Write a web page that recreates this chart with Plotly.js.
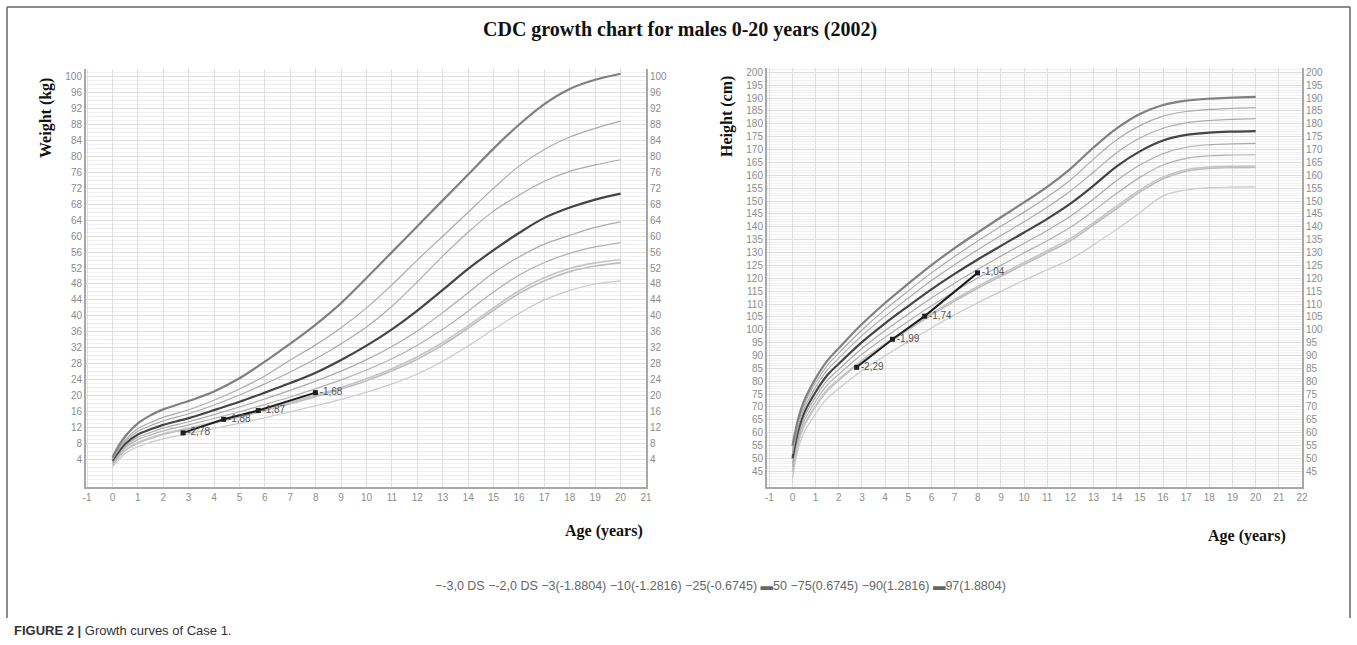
<!DOCTYPE html>
<html><head><meta charset="utf-8">
<script src="https://cdn.plot.ly/plotly-3.0.1.min.js"></script>
<style>html,body{margin:0;padding:0;background:#fff;} #chart{width:1357px;height:645px;}</style>
</head><body><div id="chart"></div>
<script>
// ---- data ----
const ages = [0,0.25,0.5,1,1.5,2,3,4,5,6,7,8,9,10,11,12,13,14,15,16,17,18,19,20];
const seriesNames = ['-3,0 DS','-2,0 DS','3(-1.8804)','10(-1.2816)','25(-0.6745)','50','75(0.6745)','90(1.2816)','97(1.8804)'];

const weightM3  = [2.0,3.8,5.4,7.1,8.2,9.1,10.4,11.7,13.0,14.4,15.9,17.4,19.0,20.8,22.9,25.4,28.6,32.4,36.6,40.6,44.0,46.4,48.0,48.8];
const weightM2  = [2.5,4.5,6.2,8.0,9.2,10.2,11.6,13.1,14.6,16.2,17.9,19.7,21.6,23.7,26.2,29.1,32.7,36.9,41.4,45.6,48.8,51.1,52.5,53.3];
const weightP3  = [2.6,4.6,6.3,8.2,9.4,10.4,11.8,13.3,14.9,16.5,18.3,20.1,22.0,24.2,26.7,29.7,33.3,37.5,42.0,46.3,49.6,51.9,53.3,54.1];
const weightP10 = [3.0,5.1,6.9,8.9,10.1,11.1,12.6,14.2,15.9,17.7,19.6,21.7,23.9,26.4,29.2,32.6,36.6,41.2,46.0,50.2,53.4,55.7,57.3,58.4];
const weightP25 = [3.3,5.5,7.3,9.5,10.7,11.8,13.4,15.2,17.1,19.1,21.3,23.6,26.1,29.0,32.3,36.2,40.8,45.8,50.8,54.8,58.0,60.2,62.2,63.6];
const weightP50 = [3.6,5.9,7.8,10.2,11.5,12.6,14.3,16.3,18.4,20.7,23.1,25.7,28.9,32.5,36.6,41.3,46.5,51.8,56.5,60.8,64.6,67.2,69.2,70.7];
const weightP75 = [3.9,6.4,8.4,11.0,12.4,13.6,15.4,17.6,20.1,22.9,25.9,29.2,33.0,37.2,42.4,48.5,55.0,61.0,66.3,70.3,73.8,76.3,77.9,79.2];
const weightP90 = [4.1,6.7,8.8,11.7,13.2,14.5,16.4,18.8,21.6,24.9,28.9,32.7,37.0,42.0,47.8,54.0,60.0,66.0,72.0,77.6,81.8,84.9,87.1,88.9];
const weightP97 = [4.4,7.4,9.7,13.0,15.0,16.5,18.6,21.0,24.3,28.5,33.0,37.8,43.2,49.5,56.0,62.5,69.0,75.5,82.0,88.0,93.2,97.0,99.3,100.8];

const heightM3  = [42.2,53.8,60.1,67.4,73.3,77.2,84.1,89.9,95.4,100.7,105.8,110.5,114.9,119.2,123.3,127.4,133.0,139.0,145.5,152.0,154.3,155.2,155.4,155.5];
const heightM2  = [44.8,56.2,62.6,70.2,76.3,80.4,87.8,94.1,100.0,105.7,111.1,116.1,120.8,125.4,129.9,134.6,140.8,147.1,153.5,158.7,161.6,162.7,163.0,163.1];
const heightP3  = [45.1,56.5,62.9,70.5,76.7,80.8,88.2,94.6,100.6,106.3,111.7,116.8,121.5,126.1,130.7,135.5,141.6,148.0,154.3,159.4,162.2,163.2,163.5,163.6];
const heightP10 = [46.7,57.9,64.4,72.2,78.5,82.7,90.5,97.1,103.3,109.3,114.9,120.1,125.0,129.9,134.6,139.8,146.2,153.0,159.2,164.0,166.6,167.6,167.9,168.0];
const heightP25 = [48.2,59.4,65.9,73.9,80.3,84.6,92.7,99.7,106.1,112.3,118.1,123.5,128.6,133.6,138.6,144.1,150.8,158.0,164.0,168.4,170.9,171.9,172.2,172.4];
const heightP50 = [50.0,61.0,67.6,75.8,82.3,86.8,95.2,102.5,109.2,115.7,121.7,127.3,132.6,137.8,143.1,149.0,156.0,163.5,169.3,173.5,175.7,176.6,177.0,177.2];
const heightP75 = [51.8,62.6,69.3,77.7,84.3,89.0,97.7,105.3,112.3,119.1,125.3,131.1,136.6,142.0,147.6,153.9,161.3,168.8,174.5,178.3,180.4,181.3,181.7,182.0];
const heightP90 = [53.3,64.1,70.8,79.4,86.1,90.9,99.9,107.9,115.1,122.1,128.5,134.5,140.2,145.7,151.6,158.2,166.3,173.8,179.3,183.0,184.8,185.6,186.0,186.3];
const heightP97 = [54.9,65.5,72.3,81.1,87.9,92.8,102.2,110.4,117.9,125.1,131.7,137.8,143.7,149.5,155.5,162.5,170.8,178.2,183.8,187.3,189.0,189.8,190.2,190.5];

const patientWeightAges = [2.78,4.38,5.74,7.99];
const patientWeights    = [10.6,14.0,16.2,20.7];
const patientWeightZ    = ['-2,78','-1,88','-1,87','-1,68'];
const patientHeightAges = [2.77,4.32,5.71,7.99];
const patientHeights    = [85.4,96.3,105.3,122.1];
const patientHeightZ    = ['-2,29','-1,99','-1,74','-1,04'];

const weightTicks = [4,8,12,16,20,24,28,32,36,40,44,48,52,56,60,64,68,72,76,80,84,88,92,96,100];
const heightTicks = [45,50,55,60,65,70,75,80,85,90,95,100,105,110,115,120,125,130,135,140,145,150,155,160,165,170,175,180,185,190,195,200];
const weightAgeTicks = [-1,0,1,2,3,4,5,6,7,8,9,10,11,12,13,14,15,16,17,18,19,20,21];
const heightAgeTicks = [-1,0,1,2,3,4,5,6,7,8,9,10,11,12,13,14,15,16,17,18,19,20,21,22];

const titleText = '<b>CDC growth chart for males 0-20 years (2002)</b>';
const captionText = '<b>FIGURE 2 |</b> Growth curves of Case 1.';

// ---- styles ----
const curveStyles = [
  {color:'#c9c9c9', width:1.2},
  {color:'#bdbdbd', width:1.6},
  {color:'#c4c4c4', width:1.6},
  {color:'#b0b0b0', width:1.2},
  {color:'#ababab', width:1.2},
  {color:'#444444', width:2.2},
  {color:'#ababab', width:1.2},
  {color:'#ababab', width:1.2},
  {color:'#808080', width:2.2}
];
const weightSeries = [weightM3,weightM2,weightP3,weightP10,weightP25,weightP50,weightP75,weightP90,weightP97];
const heightSeries = [heightM3,heightM2,heightP3,heightP10,heightP25,heightP50,heightP75,heightP90,heightP97];

const W = 1357, H = 645;
const px = v => v / W;
const py = v => 1 - v / H;

const traces = [];
weightSeries.forEach((s,i) => traces.push({
  x: ages, y: s, type:'scatter', mode:'lines', name: seriesNames[i], showlegend:false,
  xaxis:'x', yaxis:'y', line:{color:curveStyles[i].color, width:curveStyles[i].width, shape:'spline', smoothing:1}, hoverinfo:'skip'
}));
heightSeries.forEach((s,i) => traces.push({
  x: ages, y: s, type:'scatter', mode:'lines', name: seriesNames[i], showlegend:false,
  xaxis:'x2', yaxis:'y2', line:{color:curveStyles[i].color, width:curveStyles[i].width, shape:'spline', smoothing:1}, hoverinfo:'skip'
}));
traces.push({x:patientWeightAges, y:patientWeights, text:patientWeightZ, type:'scatter', mode:'lines+markers+text',
  textposition:'middle right', textfont:{family:'Liberation Sans, Arial', size:10, color:'#555'},
  xaxis:'x', yaxis:'y', showlegend:false, line:{color:'#1e1e1e', width:2}, marker:{symbol:'square', size:5, color:'#1e1e1e'}});
traces.push({x:patientHeightAges, y:patientHeights, text:patientHeightZ, type:'scatter', mode:'lines+markers+text',
  textposition:'middle right', textfont:{family:'Liberation Sans, Arial', size:10, color:'#555'},
  xaxis:'x2', yaxis:'y2', showlegend:false, line:{color:'#1e1e1e', width:2}, marker:{symbol:'square', size:5, color:'#1e1e1e'}});
traces.push({x:[], y:[], xaxis:'x', yaxis:'y3', showlegend:false, type:'scatter'});
traces.push({x:[], y:[], xaxis:'x2', yaxis:'y4', showlegend:false, type:'scatter'});

const tickFont = {family:'Liberation Sans, Arial', size:10, color:'#8c8c8c'};
function xAxis(domain, range, ticks, anchor){
  return {domain, range, tickvals:ticks, ticktext:ticks.map(String), showgrid:true, gridcolor:'#e0e0e0', gridwidth:1,
    zeroline:false, showline:true, linecolor:'#a8a8a8', linewidth:2, ticks:'', tickfont:tickFont, anchor, fixedrange:true};
}
function yAxis(domain, range, ticks, anchor, minorStep, side, overlay){
  const a = {domain, range, tickvals:ticks, ticktext:ticks.map(String), zeroline:false, showline:true, linecolor:'#a8a8a8', linewidth:2,
    ticks:'', tickfont:tickFont, anchor, fixedrange:true, side:side||'left'};
  if (overlay){ a.overlaying = overlay; a.showgrid = false; }
  else { a.showgrid = true; a.gridcolor = '#dedede'; a.gridwidth = 1;
    a.minor = {dtick:minorStep, tick0:0, showgrid:true, gridcolor:'#f1f1f1', gridwidth:1}; }
  return a;
}

const yDom = [py(487), py(69)];
const yDom2 = [py(487), py(68)];
const layout = {
  width: W, height: H, margin:{l:0,r:0,t:0,b:0}, paper_bgcolor:'#fff', plot_bgcolor:'#fff', showlegend:false,
  xaxis: xAxis([px(86), px(646)], [-1.04, 21], weightAgeTicks, 'y'),
  yaxis: yAxis(yDom, [-3, 102], weightTicks, 'x', 1),
  yaxis3: yAxis(yDom, [-3, 102], weightTicks, 'x', 1, 'right', 'y'),
  xaxis2: xAxis([px(767), px(1302)], [-1.1, 22], heightAgeTicks, 'y2'),
  yaxis2: yAxis(yDom2, [38.9, 201.7], heightTicks, 'x2', 1),
  yaxis4: yAxis(yDom2, [38.9, 201.7], heightTicks, 'x2', 1, 'right', 'y2'),
  annotations: [
    {text:titleText, x:px(680), y:py(30), xref:'paper', yref:'paper', showarrow:false, xanchor:'center', yanchor:'middle',
      font:{family:'Liberation Serif, Times New Roman', size:20, color:'#111'}},
    {text:'<b>Weight (kg)</b>', x:px(46), y:py(118), xref:'paper', yref:'paper', showarrow:false, textangle:-90,
      xanchor:'center', yanchor:'middle', font:{family:'Liberation Serif, Times New Roman', size:16, color:'#111'}},
    {text:'<b>Height (cm)</b>', x:px(727), y:py(117), xref:'paper', yref:'paper', showarrow:false, textangle:-90,
      xanchor:'center', yanchor:'middle', font:{family:'Liberation Serif, Times New Roman', size:16, color:'#111'}},
    {text:'<b>Age (years)</b>', x:px(604), y:py(531), xref:'paper', yref:'paper', showarrow:false,
      xanchor:'center', yanchor:'middle', font:{family:'Liberation Serif, Times New Roman', size:16, color:'#111'}},
    {text:'<b>Age (years)</b>', x:px(1247), y:py(536), xref:'paper', yref:'paper', showarrow:false,
      xanchor:'center', yanchor:'middle', font:{family:'Liberation Serif, Times New Roman', size:16, color:'#111'}},
    {text: seriesNames.map((n,i) => (i===5||i===8 ? '<b>\u25AC</b>' : '\u2212') + n).join(' '),
      x:px(720), y:py(586), xref:'paper', yref:'paper', showarrow:false, xanchor:'center', yanchor:'middle',
      font:{family:'Liberation Sans, Arial', size:12.5, color:'#666'}},
    {text:captionText, x:px(12), y:py(630), xref:'paper', yref:'paper', showarrow:false, xanchor:'left', yanchor:'middle',
      font:{family:'Liberation Sans, Arial', size:13, color:'#333'}}
  ],
  shapes: [
    {type:'line', xref:'paper', yref:'paper', x0:px(7), x1:px(7), y0:py(7), y1:py(618), line:{color:'#666', width:1.5}},
    {type:'line', xref:'paper', yref:'paper', x0:px(7), x1:px(1350), y0:py(7), y1:py(7), line:{color:'#666', width:1.5}},
    {type:'line', xref:'paper', yref:'paper', x0:px(1350), x1:px(1350), y0:py(7), y1:py(618), line:{color:'#666', width:1.5}}
  ]
};
Plotly.newPlot('chart', traces, layout, {staticPlot:true, displayModeBar:false});
</script></body></html>
